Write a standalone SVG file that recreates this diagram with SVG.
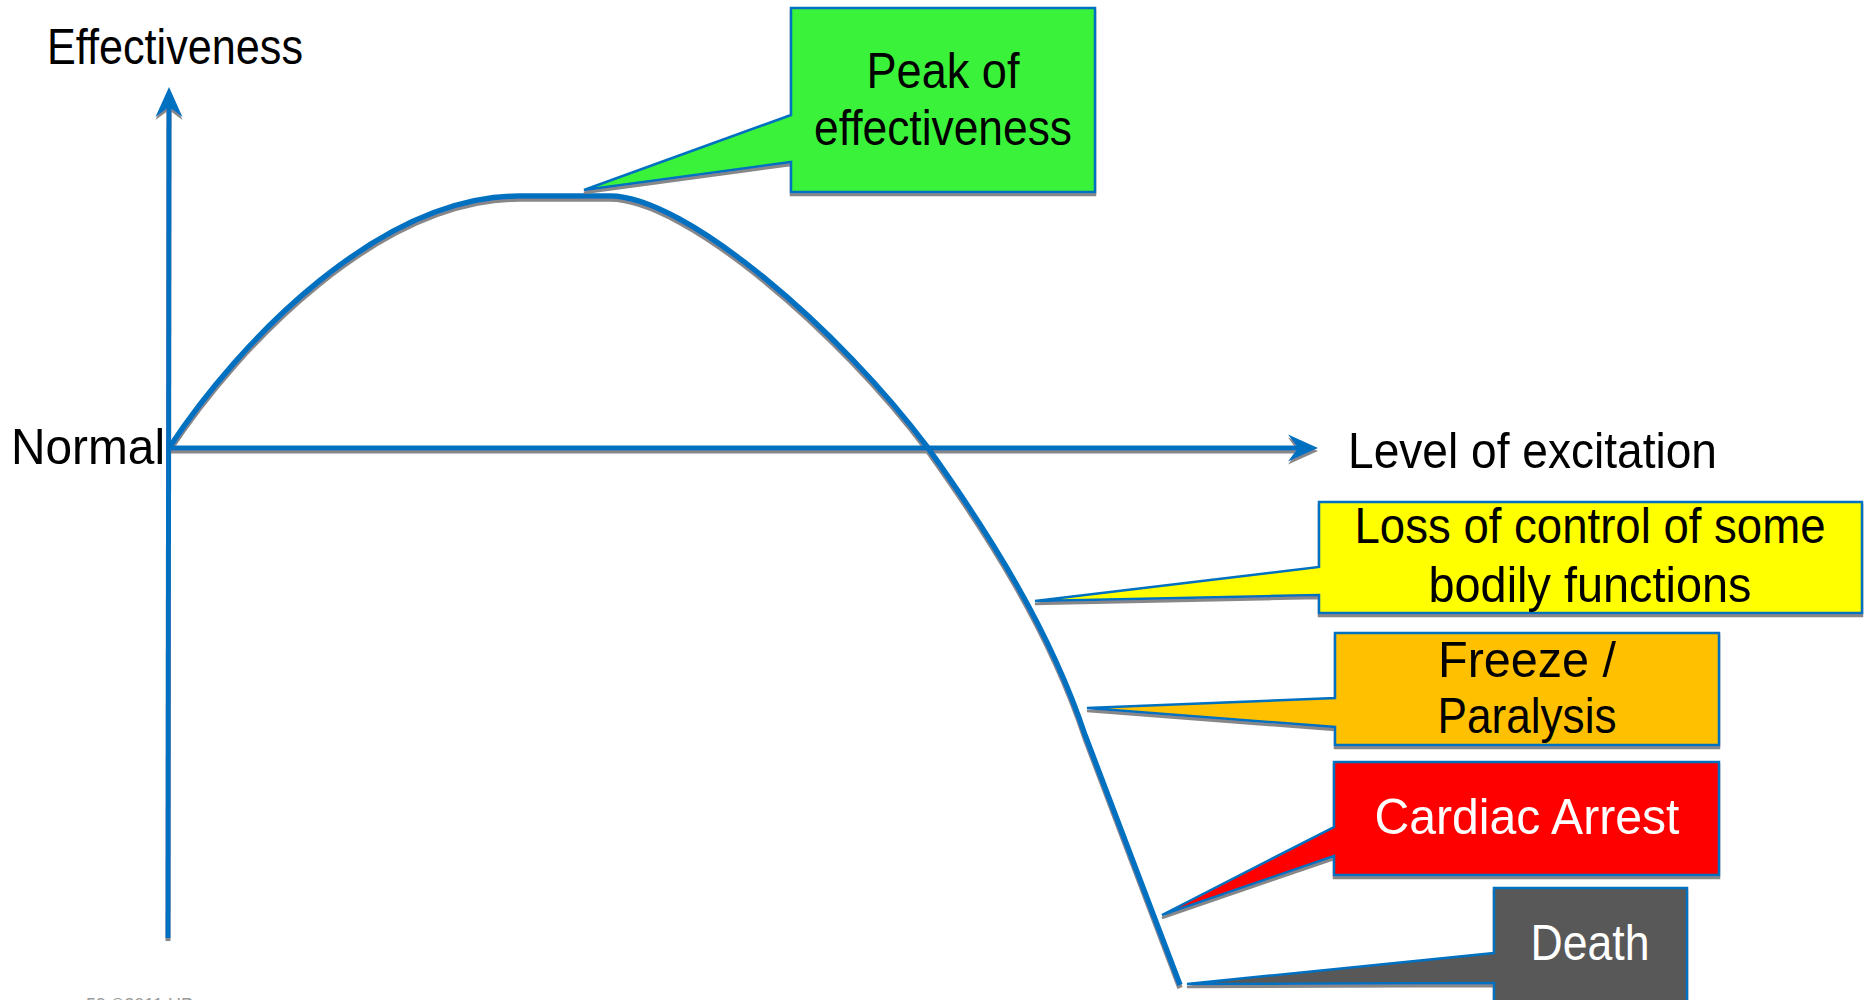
<svg xmlns="http://www.w3.org/2000/svg" width="1874" height="1000" viewBox="0 0 1874 1000">
  <defs>
    <style>
      .axis { fill: none; stroke: #0070C0; stroke-width: 5; }
      .curve { fill: none; stroke: #0070C0; stroke-width: 5.5; stroke-linejoin: round; }
      .box { stroke: #0070C0; stroke-width: 2.5; stroke-linejoin: miter; }
      .lbl { font-family: "Liberation Sans", Arial, sans-serif; font-size: 50px; fill: #000; }
      .mid { text-anchor: middle; }
      .white { fill: #fff; }
      .foot { font-family: "Liberation Sans", Arial, sans-serif; font-size: 18px; fill: #9a9a9a; }
    </style>
    <filter id="sh" filterUnits="userSpaceOnUse" x="0" y="0" width="1874" height="1000">
      <feDropShadow dx="0" dy="3" stdDeviation="0.5" flood-color="#7a7a7a" flood-opacity="0.9"/>
    </filter>
    <marker id="arr" viewBox="-32 -16 34 32" refX="-12" refY="0" markerWidth="34" markerHeight="32" markerUnits="userSpaceOnUse" orient="auto">
      <path d="M0,0 L-30,-13.5 L-20,0 L-30,13.5 Z" fill="#0070C0"/>
    </marker>
  </defs>

  <rect width="1874" height="1000" fill="#fff"/>

  <g id="connectors" filter="url(#sh)">
    <line class="axis" x1="168" y1="938" x2="169" y2="99" marker-end="url(#arr)"/>
    <line class="axis" x1="168" y1="448" x2="1306" y2="448" marker-end="url(#arr)"/>
    <path class="curve" d="M169,448 C240,340 380,196 520,196 L610,196 C685,196 840,330 928,448 C990,535 1050,630 1085,735 L1180,985"/>
  </g>

  <g id="label-effectiveness">
    <text class="lbl" x="47" y="64" textLength="256" lengthAdjust="spacingAndGlyphs">Effectiveness</text>
  </g>
  <g id="label-normal">
    <text class="lbl" x="11" y="464" textLength="154" lengthAdjust="spacingAndGlyphs">Normal</text>
  </g>
  <g id="label-excitation">
    <text class="lbl" x="1348" y="468" textLength="369" lengthAdjust="spacingAndGlyphs">Level of excitation</text>
  </g>

  <g id="node-peak">
    <path class="box" filter="url(#sh)" fill="#3AF23A" d="M791,8 H1095 V192 H791 V162 L584,190 L791,115 Z"/>
    <text class="lbl mid" x="943" y="88" textLength="153" lengthAdjust="spacingAndGlyphs">Peak of</text>
    <text class="lbl mid" x="943" y="145" textLength="258" lengthAdjust="spacingAndGlyphs">effectiveness</text>
  </g>

  <g id="node-loss">
    <path class="box" filter="url(#sh)" fill="#FFFF00" d="M1319,502 H1862 V613 H1319 V595 L1035,601 L1319,567 Z"/>
    <text class="lbl mid" x="1590" y="543" textLength="471" lengthAdjust="spacingAndGlyphs">Loss of control of some</text>
    <text class="lbl mid" x="1590" y="602" textLength="323" lengthAdjust="spacingAndGlyphs">bodily functions</text>
  </g>

  <g id="node-freeze">
    <path class="box" filter="url(#sh)" fill="#FFC000" d="M1335,633 H1719 V745 H1335 V727 L1087,708 L1335,698 Z"/>
    <text class="lbl mid" x="1527" y="677" textLength="178" lengthAdjust="spacingAndGlyphs">Freeze /</text>
    <text class="lbl mid" x="1527" y="733" textLength="179" lengthAdjust="spacingAndGlyphs">Paralysis</text>
  </g>

  <g id="node-cardiac">
    <path class="box" filter="url(#sh)" fill="#FF0000" d="M1334,762 H1719 V875 H1334 V856 L1162,915 L1334,827 Z"/>
    <text class="lbl mid white" x="1527" y="834" textLength="305" lengthAdjust="spacingAndGlyphs">Cardiac Arrest</text>
  </g>

  <g id="node-death">
    <path class="box" filter="url(#sh)" fill="#595959" d="M1494,888 H1687 V1010 H1494 V983 L1187,984 L1494,953 Z"/>
    <text class="lbl mid white" x="1590" y="960" textLength="119" lengthAdjust="spacingAndGlyphs">Death</text>
  </g>

  <g id="footer">
    <text class="foot" x="86" y="1011">59    ©2011 HP</text>
  </g>
</svg>
